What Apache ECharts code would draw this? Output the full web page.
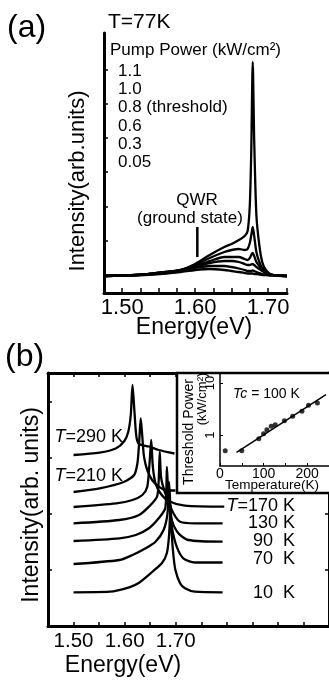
<!DOCTYPE html>
<html>
<head>
<meta charset="utf-8">
<script src="https://cdn.jsdelivr.net/npm/echarts@6/dist/echarts.min.js"></script>
<style>
html,body{margin:0;padding:0;background:#fff;}
#chart{width:329px;height:681px;}
</style>
</head>
<body>
<div id="chart"></div>
<script>
// ---------- Panel (a): T = 77 K, pump-power series ----------
const energyA = [1.475, 1.50, 1.53, 1.56, 1.58, 1.60, 1.62, 1.64, 1.65, 1.66, 1.668, 1.672, 1.675, 1.677, 1.679, 1.681, 1.684, 1.688, 1.692, 1.697, 1.703, 1.712, 1.726];
const powerLabels = ['1.1', '1.0', '0.8 (threshold)', '0.6', '0.3', '0.05'];
const intensityA_1p1 = [-1, -0.5, 0.5, 3, 5, 11, 20, 28, 31, 35, 39, 44, 70, 125, 213, 135, 60, 30, 13, 5, 1, -0.5, -1];
const intensityA_1p0 = [-1, -0.5, 0.5, 3, 5, 10, 17, 23, 25, 26, 25, 26, 32, 40, 48, 39, 23, 13, 7, 3, 0.5, -0.5, -1];
const intensityA_0p8 = [-1, -0.5, 0.5, 3, 5, 9, 14, 18, 18, 18, 16, 15, 17, 20, 22, 19, 13, 9, 5, 2, 0.5, -0.5, -1];
const intensityA_0p6 = [-1, -0.5, 0.5, 2.5, 4.5, 8, 12, 14, 14, 13, 11, 10, 10, 10.5, 11, 10, 8, 6, 4, 2, 0.5, -0.5, -1];
const intensityA_0p3 = [-1, -0.5, 0.5, 2, 4, 7, 9, 9, 8, 6.5, 5, 4, 4, 4, 4.5, 4, 3, 2, 1, 0.5, 0, -0.5, -1];
const intensityA_0p05 = [-1, -0.5, 0, 1.5, 3, 5, 6, 5, 4, 3, 2, 1.5, 1.5, 1.5, 1.5, 1, 1, 0.5, 0, 0, -0.5, -0.5, -1];
const qwrMarkE = [1.603, 1.603];
const qwrMarkI = [18, 48];
const ticksA_x = [1.475, 1.50, 1.525, 1.55, 1.575, 1.60, 1.625, 1.65, 1.675, 1.70, 1.725];
const labelsA_x = [1.50, 1.60, 1.70];
const ticksA_y = [0, 34, 68, 103, 137, 171, 205];

// ---------- Panel (b): temperature series (offset spectra) ----------
const tempLabels = ['T=290 K', 'T=210 K', 'T=170 K', '130 K', '90  K', '70  K', '10  K'];
const e290 = [1.500, 1.551, 1.5835, 1.5994, 1.607, 1.612, 1.6154, 1.619, 1.623, 1.628, 1.6475, 1.6667, 1.6975];
const i290 = [171, 173.3, 177.7, 185, 194, 211, 241, 216, 189.3, 182, 179.5, 176, 172.5];
const e210 = [1.500, 1.5513, 1.5994, 1.6187, 1.625, 1.6283, 1.6315, 1.6346, 1.6379, 1.6442, 1.6538, 1.6667, 1.6796, 1.6994];
const i210 = [134, 137.7, 144.3, 151, 162.7, 182.7, 207.7, 189.3, 169.3, 156, 146, 139.3, 136, 135.5];
const e170 = [1.500, 1.5835, 1.6154, 1.6346, 1.6442, 1.6488, 1.652, 1.6552, 1.6604, 1.670, 1.686, 1.718, 1.795];
const i170 = [119, 122.7, 126, 131, 139, 163, 186, 159.3, 142.7, 132.7, 125, 120.3, 119.3];
const e130 = [1.500, 1.5898, 1.6283, 1.6508, 1.6635, 1.6667, 1.6687, 1.6715, 1.6796, 1.6956, 1.7085, 1.7373, 1.7917];
const i130 = [102.7, 106, 111, 121, 129.3, 146, 174.3, 148, 132.7, 112.7, 104.3, 102.7, 102.7];
const e90 = [1.500, 1.5898, 1.6219, 1.6475, 1.6667, 1.6796, 1.6827, 1.686, 1.6923, 1.7052, 1.7244, 1.7917];
const i90 = [85, 87.7, 91, 97.7, 107.7, 118, 159, 126, 106, 92.7, 86, 84.3];
const e70 = [1.500, 1.5898, 1.6154, 1.6412, 1.6604, 1.6763, 1.684, 1.687, 1.6898, 1.6923, 1.7019, 1.7148, 1.7373, 1.7917];
const i70 = [62, 66, 71, 77.7, 84.3, 96, 113, 144, 116, 99.3, 79.3, 67.7, 63.5, 63.5];
const e10 = [1.500, 1.5706, 1.609, 1.6283, 1.6538, 1.6731, 1.6827, 1.687, 1.690, 1.6923, 1.6956, 1.6994, 1.7085, 1.7181, 1.7373, 1.7917];
const i10 = [33.7, 34.3, 38.7, 43.3, 54, 63, 73, 91, 121, 91, 70, 56, 42.7, 37.7, 34.3, 33.7];
const labelsB_x = [1.50, 1.60, 1.70];
const ticksB_y = [56, 112, 168, 224];

// ---------- Inset: threshold power vs temperature ----------
const insetT = [12, 50, 89, 100, 107.5, 117.5, 126.6, 147.7, 166.6, 188, 203, 223.4];
const insetP = [0.50, 0.50, 0.85, 1.06, 1.26, 1.47, 1.58, 1.88, 2.29, 2.86, 3.72, 4.12];
const fitT = [38, 243];
const fitP = [0.465, 5.96];
const insetLabelsX = [0, 100, 200];
const insetLabelsY = [1, 10];

// ---------- build ----------
const FONT = "'Liberation Sans', Arial, Helvetica, sans-serif";
const zip = (a, b) => a.map((v, i) => [v, b[i]]);
const lineSeries = (xi, yi, data, extra) => Object.assign({
  type: 'line', xAxisIndex: xi, yAxisIndex: yi, data: data,
  showSymbol: false, symbol: 'none', smooth: 0.25,
  lineStyle: { color: '#000', width: 2.3 }, silent: true, animation: false
}, extra || {});

const seriesA = [intensityA_1p1, intensityA_1p0, intensityA_0p8, intensityA_0p6, intensityA_0p3, intensityA_0p05]
  .map(arr => lineSeries(0, 0, zip(energyA, arr)));
seriesA.push(lineSeries(0, 0, zip(qwrMarkE, qwrMarkI), { smooth: false, lineStyle: { color: '#000', width: 2.5 } }));

const seriesB = [[e290, i290], [e210, i210], [e170, i170], [e130, i130], [e90, i90], [e70, i70], [e10, i10]]
  .map(p => lineSeries(1, 1, zip(p[0], p[1])));

const insetSeries = [
  { type: 'line', xAxisIndex: 3, yAxisIndex: 3, data: zip(fitT, fitP), showSymbol: false, symbol: 'none',
    lineStyle: { color: '#000', width: 1.5 }, z: 7, animation: false, silent: true },
  { type: 'scatter', xAxisIndex: 3, yAxisIndex: 3, data: zip(insetT, insetP), symbol: 'circle', symbolSize: 5,
    itemStyle: { color: '#000' }, z: 8, animation: false, silent: true }
];

const axisLineBlack = w => ({ show: true, onZero: false, lineStyle: { color: '#000', width: w } });

const txt = (text, x, y, size, opts) => {
  const o = opts || {};
  return {
    type: 'text', x: x, y: y, rotation: o.rotation || 0, z: o.z || 20, silent: true,
    style: {
      text: text, fill: '#000', fontSize: size, fontFamily: FONT,
      fontStyle: o.italic ? 'italic' : 'normal',
      align: o.align || 'left', textAlign: o.align || 'left',
      verticalAlign: 'middle', textVerticalAlign: 'middle',
      rich: o.rich
    }
  };
};
const italicT = size => ({ i: { fontStyle: 'italic', fontSize: size, fontFamily: FONT, fill: '#000' },
                           n: { fontSize: size, fontFamily: FONT, fill: '#000' } });

const graphics = [
  txt('(a)', 7, 28, 32),
  txt('T=77K', 108, 22, 21),
  txt('Pump Power (kW/cm²)', 110, 50, 17),
  txt('Intensity(arb.units)', 78, 181, 22, { rotation: Math.PI / 2, align: 'center' }),
  txt('Energy(eV)', 194, 328, 23, { align: 'center' }),
  txt('QWR', 197, 200, 17, { align: 'center' }),
  txt('(ground state)', 190, 218, 17, { align: 'center' }),
  txt('(b)', 5, 357, 32),
  txt('Intensity(arb. units)', 32, 505, 23, { rotation: Math.PI / 2, align: 'center' }),
  txt('Energy(eV)', 123, 666, 23, { align: 'center' }),
  { type: 'rect', z: 5, silent: true, shape: { x: 177, y: 373, width: 170, height: 120 },
    style: { fill: '#fff', stroke: '#000', lineWidth: 2.5 } },
  txt('Threshold Power', 189, 432, 14, { rotation: Math.PI / 2, align: 'center', z: 9 }),
  txt('(kW/cm²)', 202, 399, 13, { rotation: Math.PI / 2, align: 'center', z: 9 }),
  txt('Temperature(K)', 272, 485, 13.5, { align: 'center', z: 9 }),
  txt('{i|Tc} {n|= 100 K}', 233, 394, 14, { z: 9, rich: italicT(14) })
];
const powerY = [71, 89, 107.5, 126, 144, 162];
powerLabels.forEach((t, k) => graphics.push(txt(t, 118, powerY[k], 17)));
const tempPos = [[123, 437, 'right'], [123, 476, 'right'], [295, 506, 'right'], [295, 523, 'right'], [295, 541, 'right'], [295, 559, 'right'], [295, 593, 'right']];
tempLabels.forEach((t, k) => {
  const p = tempPos[k];
  if (t.indexOf('T=') === 0) {
    graphics.push(txt('{i|T}{n|' + t.slice(1) + '}', p[0], p[1], 18, { align: p[2], rich: italicT(18) }));
  } else {
    graphics.push(txt(t, p[0], p[1], 18, { align: p[2] }));
  }
});

const option = {
  backgroundColor: '#fff',
  animation: false,
  grid: [
    { left: 104, top: 33, width: 183, height: 260 },
    { left: 48, top: 373, width: 285, height: 253 },
    { left: 220, top: 373, width: 110, height: 93, z: 6 }
  ],
  xAxis: [
    { type: 'value', gridIndex: 0, min: 1.475, max: 1.726,
      axisLine: axisLineBlack(3),
      axisTick: { show: true, inside: true, length: 5, customValues: ticksA_x, lineStyle: { color: '#000', width: 1.5 } },
      axisLabel: { show: true, customValues: labelsA_x, formatter: v => v.toFixed(2), fontSize: 22, fontFamily: FONT, color: '#000', margin: 4 },
      splitLine: { show: false } },
    { type: 'value', gridIndex: 1, min: 1.45, max: 2.0, interval: 0.05,
      axisLine: axisLineBlack(3),
      axisTick: { show: true, inside: true, length: 4, lineStyle: { color: '#000', width: 1.5 } },
      axisLabel: { show: true, customValues: labelsB_x, formatter: v => v.toFixed(2), fontSize: 20.5, fontFamily: FONT, color: '#000', margin: 5 },
      splitLine: { show: false } },
    { type: 'value', gridIndex: 1, position: 'top', min: 1.45, max: 2.0, interval: 0.05,
      axisLine: axisLineBlack(3),
      axisTick: { show: true, inside: true, length: 4, lineStyle: { color: '#000', width: 1.5 } },
      axisLabel: { show: false }, splitLine: { show: false } },
    { type: 'value', gridIndex: 2, min: 0, max: 250, interval: 50, z: 6,
      axisLine: axisLineBlack(1.5),
      axisTick: { show: true, inside: true, length: 3, lineStyle: { color: '#000', width: 1 } },
      axisLabel: { show: true, customValues: insetLabelsX, fontSize: 14, fontFamily: FONT, color: '#000', margin: 1 },
      splitLine: { show: false } }
  ],
  yAxis: [
    { type: 'value', gridIndex: 0, min: -18, max: 242,
      axisLine: axisLineBlack(3),
      axisTick: { show: true, inside: true, length: 4, customValues: ticksA_y, lineStyle: { color: '#000', width: 1.5 } },
      axisLabel: { show: false }, splitLine: { show: false } },
    { type: 'value', gridIndex: 1, min: 0, max: 253,
      axisLine: axisLineBlack(3),
      axisTick: { show: true, inside: true, length: 4, customValues: ticksB_y, lineStyle: { color: '#000', width: 1.5 } },
      axisLabel: { show: false }, splitLine: { show: false } },
    { type: 'value', gridIndex: 1, position: 'right', min: 0, max: 253,
      axisLine: axisLineBlack(3),
      axisTick: { show: true, inside: true, length: 4, customValues: ticksB_y, lineStyle: { color: '#000', width: 1.5 } },
      axisLabel: { show: false }, splitLine: { show: false } },
    { type: 'log', logBase: 10, gridIndex: 2, min: 0.2535, max: 15.6, z: 6,
      axisLine: axisLineBlack(1.5),
      axisTick: { show: true, inside: true, length: 3, lineStyle: { color: '#000', width: 1 } },
      axisLabel: { show: true, rotate: 90, fontSize: 13, fontFamily: FONT, color: '#000', margin: 3,
                   showMinLabel: false, showMaxLabel: false,
                   formatter: v => (insetLabelsY.some(t => Math.abs(t - v) < 1e-6) ? String(Math.round(v)) : '') },
      splitLine: { show: false } }
  ],
  series: seriesA.concat(seriesB).concat(insetSeries),
  graphic: { elements: graphics }
};

const chart = echarts.init(document.getElementById('chart'), null, { renderer: 'canvas' });
chart.setOption(option);
</script>
</body>
</html>
